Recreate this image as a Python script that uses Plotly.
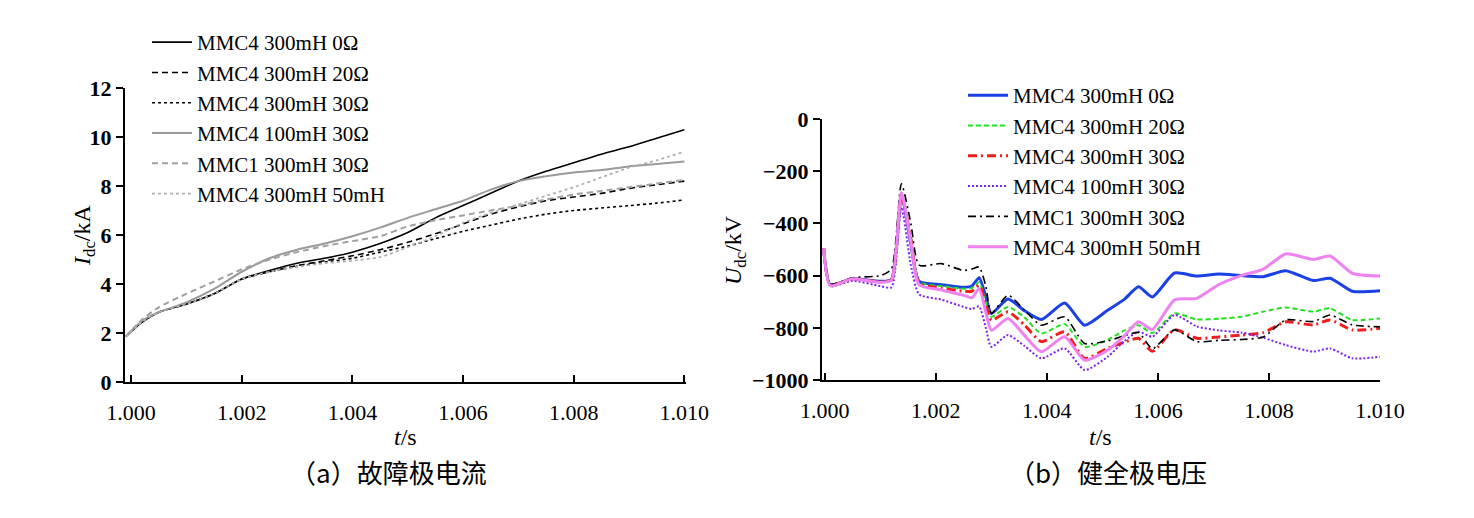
import plotly.graph_objects as go

# ---------------- data: (a) fault pole current ----------------
t_a = [0.9999, 1.0002, 1.0005, 1.001, 1.0015, 1.002, 1.0025, 1.003, 1.0035, 1.004,
       1.0045, 1.005, 1.0055, 1.006, 1.0065, 1.007, 1.0075, 1.008, 1.0085, 1.009,
       1.0095, 1.010]
i_mmc4_300_0 = [1.85, 2.45, 2.85, 3.18, 3.6, 4.2, 4.55, 4.85, 5.05, 5.3, 5.65, 6.1,
                6.7, 7.2, 7.7, 8.2, 8.6, 8.95, 9.3, 9.6, 9.95, 10.3]
i_mmc4_300_20 = [1.85, 2.45, 2.85, 3.18, 3.6, 4.2, 4.5, 4.75, 4.95, 5.15, 5.4, 5.7,
                 6.05, 6.45, 6.85, 7.15, 7.4, 7.55, 7.7, 7.9, 8.05, 8.2]
i_mmc4_300_30 = [1.85, 2.45, 2.85, 3.18, 3.6, 4.2, 4.5, 4.72, 4.9, 5.05, 5.3, 5.55,
                 5.85, 6.15, 6.4, 6.65, 6.85, 7.0, 7.1, 7.2, 7.3, 7.43]
i_mmc4_100_30 = [1.85, 2.5, 2.85, 3.25, 3.8, 4.5, 5.05, 5.4, 5.65, 5.95, 6.3, 6.7,
                 7.05, 7.4, 7.85, 8.2, 8.4, 8.55, 8.65, 8.8, 8.9, 9.0]
i_mmc1_300_30 = [1.85, 2.55, 3.05, 3.6, 4.1, 4.6, 5.0, 5.3, 5.55, 5.75, 5.95, 6.35,
                 6.6, 6.8, 7.0, 7.2, 7.45, 7.65, 7.8, 7.95, 8.1, 8.25]
i_mmc4_300_50mh = [1.85, 2.45, 2.85, 3.18, 3.6, 4.2, 4.5, 4.7, 4.85, 4.95, 5.1, 5.5,
                   5.95, 6.5, 6.9, 7.25, 7.6, 7.95, 8.35, 8.75, 9.05, 9.4]

# ---------------- data: (b) healthy pole voltage ----------------
t_b = [0.99998, 1.0001, 1.0005, 1.0010, 1.0012, 1.00138, 1.00155, 1.0017, 1.0021,
       1.0025, 1.00265, 1.00278, 1.0029, 1.0030, 1.0033, 1.0036, 1.0039, 1.00432,
       1.00468, 1.0051, 1.0054, 1.00565, 1.0059, 1.0063, 1.0067, 1.0071, 1.0075,
       1.0079, 1.0083, 1.0088, 1.0091, 1.0095, 1.0100]
u_mmc4_300_0 = [-495, -635, -612, -622, -615, -290, -480, -622, -635, -645, -640, -608,
                -680, -745, -690, -735, -768, -705, -790, -732, -690, -643, -682, -590,
                -602, -594, -600, -604, -581, -619, -610, -660, -658]
u_mmc4_300_20 = [-495, -635, -612, -624, -616, -287, -450, -625, -640, -650, -648, -625,
                 -700, -758, -720, -760, -822, -786, -873, -845, -810, -790, -820, -745,
                 -768, -765, -758, -738, -722, -738, -725, -770, -764]
u_mmc4_300_30 = [-495, -635, -612, -624, -616, -292, -460, -630, -648, -660, -660, -637,
                 -710, -771, -739, -790, -853, -815, -917, -878, -855, -840, -890, -808,
                 -840, -835, -828, -818, -777, -789, -770, -808, -802]
u_mmc4_100_30 = [-495, -640, -620, -640, -645, -338, -560, -672, -692, -720, -728, -718,
                 -800, -873, -828, -870, -917, -879, -962, -910, -850, -815, -834, -751,
                 -795, -810, -818, -838, -866, -891, -879, -917, -911]
u_mmc1_300_30 = [-495, -632, -608, -600, -575, -248, -400, -560, -554, -580, -575, -567,
                 -640, -745, -675, -733, -790, -758, -860, -850, -830, -818, -880, -808,
                 -853, -848, -845, -835, -770, -776, -751, -789, -796]
u_mmc4_300_50mh = [-495, -638, -612, -626, -618, -282, -470, -635, -655, -675, -685, -650,
                   -740, -809, -764, -830, -892, -834, -924, -885, -830, -777, -806, -693,
                   -687, -634, -600, -575, -517, -538, -525, -591, -602]

names = ["MMC4 300mH 0Ω", "MMC4 300mH 20Ω", "MMC4 300mH 30Ω",
         "MMC4 100mH 30Ω", "MMC1 300mH 30Ω", "MMC4 300mH 50mH"]
x_ticks = [1.000, 1.002, 1.004, 1.006, 1.008, 1.010]
ya_ticks = [0, 2, 4, 6, 8, 10, 12]
yb_ticks = [0, -200, -400, -600, -800, -1000]

SERIF = "Liberation Serif, Times New Roman, serif"
fig = go.Figure()

styles_a = [
    dict(color="black", width=1.6, dash="solid"),
    dict(color="black", width=1.6, dash="6px,4px"),
    dict(color="black", width=1.6, dash="3px,3px"),
    dict(color="#9a9a9a", width=2, dash="solid"),
    dict(color="#a0a0a0", width=2, dash="6px,4px"),
    dict(color="#b0b0b0", width=1.8, dash="3px,3px"),
]
series_a = [i_mmc4_300_0, i_mmc4_300_20, i_mmc4_300_30,
            i_mmc4_100_30, i_mmc1_300_30, i_mmc4_300_50mh]
for nm, ys, st in zip(names, series_a, styles_a):
    fig.add_trace(go.Scatter(x=t_a, y=ys, name=nm, mode="lines",
                             line=dict(shape="spline", smoothing=0.6, **st),
                             xaxis="x", yaxis="y", legend="legend"))

styles_b = [
    dict(color="#1a40e6", width=3, dash="solid"),
    dict(color="#22e022", width=2, dash="5px,3px"),
    dict(color="#f01e1e", width=3, dash="9px,4px,2px,4px"),
    dict(color="#7a22f0", width=2, dash="2px,2px"),
    dict(color="black", width=1.6, dash="8px,4px,2px,4px"),
    dict(color="#ee82ee", width=3, dash="solid"),
]
series_b = [u_mmc4_300_0, u_mmc4_300_20, u_mmc4_300_30,
            u_mmc4_100_30, u_mmc1_300_30, u_mmc4_300_50mh]
for nm, ys, st in zip(names, series_b, styles_b):
    fig.add_trace(go.Scatter(x=t_b, y=ys, name=nm, mode="lines",
                             line=dict(shape="spline", smoothing=0.6, **st),
                             xaxis="x2", yaxis="y2", legend="legend2"))

# the page body adds an 8px offset; figure is sized to fit inside the window
OFF = 8
W, H = 1474 - 2 * OFF, 518 - 2 * OFF
def fx(px):
    return (px - OFF) / W
def fy(py):
    return (H - (py - OFF)) / H

xcommon = dict(showline=True, linecolor="black", linewidth=2, ticks="inside",
               ticklen=7, tickwidth=1.5, tickcolor="black", showgrid=False,
               zeroline=False, tickvals=x_ticks, tickformat=".3f", automargin=False,
               tickfont=dict(family=SERIF, size=22, color="black"),
               ticklabelstandoff=10)
ycommon = dict(showline=True, linecolor="black", linewidth=2, ticks="outside",
               ticklen=7, tickwidth=1.5, tickcolor="black", showgrid=False,
               zeroline=False, automargin=False,
               tickfont=dict(family=SERIF, size=22, color="black", weight="bold"))

leg_font = dict(family=SERIF, size=21, color="black")
fig.update_layout(
    width=W, height=H,
    margin=dict(l=0, r=0, t=0, b=0, autoexpand=False),
    paper_bgcolor="white", plot_bgcolor="white",
    xaxis=dict(domain=[fx(125), fx(686)], range=[0.99989, 1.01003], anchor="y", **xcommon),
    yaxis=dict(domain=[fy(382), fy(88)], range=[0, 12], anchor="x", tickvals=ya_ticks, **ycommon),
    xaxis2=dict(domain=[fx(822), fx(1380)], range=[0.99995, 1.01], anchor="y2", **xcommon),
    yaxis2=dict(domain=[fy(380), fy(119)], range=[-1000, 0], anchor="x2", tickvals=yb_ticks,
                tickformat="d", **ycommon),
    legend=dict(x=fx(147), y=fy(22), xanchor="left", yanchor="top", xref="container",
                yref="container", bgcolor="rgba(0,0,0,0)", font=leg_font,
                tracegroupgap=0, itemwidth=40),
    legend2=dict(x=fx(963), y=fy(75), xanchor="left", yanchor="top", xref="container",
                 yref="container", bgcolor="rgba(0,0,0,0)", font=leg_font,
                 tracegroupgap=0, itemwidth=40),
    font=dict(family=SERIF, color="black"),
)

ann_font = dict(family=SERIF, size=24, color="black")
cjk_font = dict(family="Noto Sans CJK SC", size=26, color="black")
def note(text, px, py, font, angle=0):
    fig.add_annotation(text=text, x=fx(px), y=fy(py), xref="paper", yref="paper",
                       xanchor="center", yanchor="middle", showarrow=False,
                       textangle=angle, font=font)

note("<i>I</i><sub>dc</sub>/kA", 84, 235, ann_font, -90)
note("<i>U</i><sub>dc</sub>/kV", 735, 250, ann_font, -90)
note("<i>t</i>/s", 405, 437, ann_font)
note("<i>t</i>/s", 1100, 437, ann_font)
note("（a）故障极电流", 389, 471, cjk_font)
note("（b）健全极电压", 1108, 471, cjk_font)

fig.write_html("out.html")
